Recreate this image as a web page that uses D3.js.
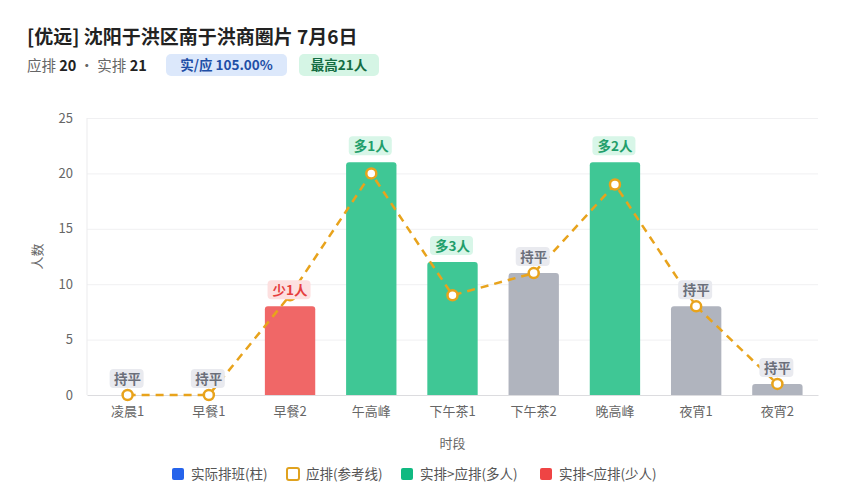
<!DOCTYPE html>
<html lang="zh">
<head>
<meta charset="UTF-8">
<title>排班对比</title>
<script src="https://d3js.org/d3.v7.min.js"></script>
<style>
    body {margin: 0; background: #fff; font-family: "Noto Sans CJK SC", "Noto Sans", sans-serif;}
    text {font-family: "Noto Sans CJK SC", "Noto Sans", sans-serif;}
    .grid line {stroke: #f0f0f2;}
    .grid .domain {display: none}
    .axis text {fill: #666; font-size: 13px}
</style>
</head>
<body>
<script>
    const width  = 850;
    const height = 500;

    // data
    const periods  = ["凌晨1","早餐1","早餐2","午高峰","下午茶1","下午茶2","晚高峰","夜宵1","夜宵2"];
    const actual   = [0, 0, 8, 21, 12, 11, 21, 8, 1];
    const planned  = [0, 0, 9, 20, 9, 11, 19, 8, 1];
    const diffText = ["持平","持平","少1人","多1人","多3人","持平","多2人","持平","持平"];
    const yTicks   = [0, 5, 10, 15, 20, 25];
    const legendItems = ["实际排班(柱)", "应排(参考线)", "实排>应排(多人)", "实排<应排(少人)"];

    const margin = {top: 118, right: 32, bottom: 105, left: 87};

    const svg = d3.select("body").append("svg")
        .attr("width", width).attr("height", height);

    // header
    svg.append("text").attr("x", 27).attr("y", 44)
        .attr("font-size", 19).attr("font-weight", 700).attr("fill", "#222")
        .text("[优远] 沈阳于洪区南于洪商圈片 7月6日");

    const sub = svg.append("text").attr("x", 27).attr("y", 71)
        .attr("font-size", 14.5).attr("fill", "#666");
    sub.append("tspan").text("应排 ");
    sub.append("tspan").attr("font-weight", 700).attr("fill", "#222").text("20");
    sub.append("tspan").text(" · 实排 ");
    sub.append("tspan").attr("font-weight", 700).attr("fill", "#222").text("21");

    const badges = [
        {text: "实/应 105.00%", x: 166, w: 121, bg: "#dce8fb", fg: "#1e4fa6"},
        {text: "最高21人", x: 299, w: 80, bg: "#d5f5e5", fg: "#146c43"}
    ];
    badges.forEach(b => {
        svg.append("rect").attr("x", b.x).attr("y", 54).attr("width", b.w).attr("height", 22)
            .attr("rx", 5).attr("fill", b.bg);
        svg.append("text").attr("x", b.x + b.w / 2).attr("y", 70).attr("text-anchor", "middle")
            .attr("font-size", 13.5).attr("font-weight", 700).attr("fill", b.fg).text(b.text);
    });

    // scales
    const x = d3.scaleBand().domain(periods)
        .range([margin.left, width - margin.right]).paddingInner(0.38).paddingOuter(0.19);
    const y = d3.scaleLinear().domain([0, 25]).range([height - margin.bottom, margin.top]);

    // grid
    svg.append("g").attr("class", "grid")
        .attr("transform", `translate(${margin.left},0)`)
        .call(d3.axisLeft(y).tickValues(yTicks.slice(1)).tickSize(-(width - margin.left - margin.right)).tickFormat(""));

    svg.append("line").attr("x1", margin.left).attr("x2", margin.left)
        .attr("y1", y(25)).attr("y2", y(0)).attr("stroke", "#ebebed");

    // y axis
    const ya = svg.append("g").attr("class", "axis")
        .attr("transform", `translate(${margin.left},0)`)
        .call(d3.axisLeft(y).tickValues(yTicks).tickSize(0).tickPadding(14));
    ya.select(".domain").remove();

    // x axis
    const xa = svg.append("g").attr("class", "axis")
        .attr("transform", `translate(0,${y(0)})`)
        .call(d3.axisBottom(x).tickSize(0).tickPadding(12).tickSizeOuter(0));
    xa.select(".domain").attr("stroke", "#dcdcdf");

    svg.append("text").attr("x", x("下午茶1") + x.bandwidth() / 2).attr("y", 448)
        .attr("text-anchor", "middle").attr("font-size", 13).attr("fill", "#666").text("时段");
    svg.append("text").attr("transform", `translate(42,${y(12.5)}) rotate(-90)`)
        .attr("text-anchor", "middle").attr("font-size", 13).attr("fill", "#666").text("人数");

    const colorOf = i => actual[i] > planned[i] ? "#3fc795" : actual[i] < planned[i] ? "#f06767" : "#b0b4be";
    const bgOf    = i => actual[i] > planned[i] ? "#d8f6e8" : actual[i] < planned[i] ? "#fde0e0" : "#e9eaef";
    const fgOf    = i => actual[i] > planned[i] ? "#1f9e6b" : actual[i] < planned[i] ? "#e53e3e" : "#6b6f7a";

    // bars with rounded tops
    const r = 3;
    svg.selectAll("path.bar").data(periods).join("path").attr("class", "bar")
        .attr("fill", (d, i) => colorOf(i))
        .attr("d", (d, i) => {
            const x0 = x(d), w = x.bandwidth(), y0 = y(0), y1 = y(actual[i]);
            if (y0 - y1 <= 0) return "";
            const rr = Math.min(r, y0 - y1);
            return `M${x0},${y0}V${y1 + rr}Q${x0},${y1} ${x0 + rr},${y1}H${x0 + w - rr}Q${x0 + w},${y1} ${x0 + w},${y1 + rr}V${y0}Z`;
        });

    // planned line
    const line = d3.line().x((d, i) => x(periods[i]) + x.bandwidth() / 2).y(d => y(d));
    svg.append("path").datum(planned).attr("d", line)
        .attr("fill", "none").attr("stroke", "#e8a31c").attr("stroke-width", 2.5)
        .attr("stroke-dasharray", "8 6");
    svg.selectAll("circle.pt").data(planned).join("circle").attr("class", "pt")
        .attr("cx", (d, i) => x(periods[i]) + x.bandwidth() / 2).attr("cy", d => y(d))
        .attr("r", 5).attr("fill", "#fff").attr("stroke", "#e8a31c").attr("stroke-width", 2.5);

    // diff labels
    const lab = svg.selectAll("g.lab").data(diffText).join("g").attr("class", "lab")
        .attr("transform", (d, i) => `translate(${x(periods[i]) + x.bandwidth() / 2},${y(actual[i]) - 16})`);
    lab.append("rect").attr("x", d => -(d.length * 13 + 10) / 2 + (d.includes("人") ? 2 : 0))
        .attr("width", d => d.length * 13 + 8 - (d.includes("人") ? 4 : 0))
        .attr("y", -10).attr("height", 19).attr("rx", 4)
        .attr("fill", (d, i) => bgOf(i));
    lab.append("text").attr("text-anchor", "middle").attr("y", 5)
        .attr("font-size", 13.5).attr("font-weight", 700)
        .attr("fill", (d, i) => fgOf(i)).text(d => d);

    // legend
    const legX = [172, 287, 401, 540];
    const leg = svg.selectAll("g.leg").data(legendItems).join("g").attr("class", "leg")
        .attr("transform", (d, i) => `translate(${legX[i]},474)`);
    leg.append("rect").attr("x", 0).attr("y", -6).attr("width", 12).attr("height", 12).attr("rx", 2)
        .attr("fill", (d, i) => ["#2563eb", "#fff", "#10b981", "#ef4444"][i])
        .attr("stroke", (d, i) => i === 1 ? "#e0a21f" : "none").attr("stroke-width", 2);
    leg.append("text").attr("x", 19).attr("y", 5).attr("font-size", 13.5).attr("fill", "#555").text(d => d);
</script>
</body>
</html>
